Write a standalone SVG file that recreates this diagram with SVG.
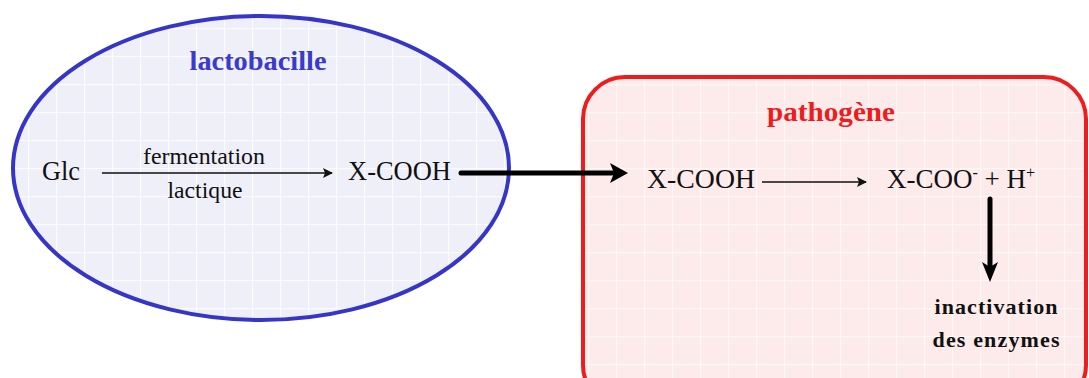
<svg xmlns="http://www.w3.org/2000/svg" width="1089" height="378" viewBox="0 0 1089 378">
<style>
.t{font-family:"Liberation Serif","Times New Roman",serif;fill:#111}
.big{font-size:27px}
.small{font-size:23px}
.bold{font-weight:bold}
.thin{stroke:#111;stroke-width:1.5;fill:none}
.thick{stroke:#000;stroke-width:5;fill:none;stroke-linecap:round}
</style>
<defs>
<pattern id="gb" width="28" height="28" patternUnits="userSpaceOnUse">
<rect width="28" height="28" fill="#efeffa"/>
<path d="M0 0.5H28M0.5 0V28" stroke="#fafaff" stroke-width="1.5"/>
</pattern>
<pattern id="gr" width="28" height="28" patternUnits="userSpaceOnUse">
<rect width="28" height="28" fill="#fdeaeb"/>
<path d="M0 0.5H28M0.5 0V28" stroke="#fff6f6" stroke-width="1.5"/>
</pattern>
<marker id="ah" markerWidth="10" markerHeight="10" refX="9" refY="5" orient="auto" markerUnits="userSpaceOnUse">
<path d="M0 0L10 5L0 10L2 5Z" fill="#111"/>
</marker>
</defs>
<g id="lactobacille">
<ellipse cx="261" cy="168" rx="248" ry="152" fill="url(#gb)" stroke="#3535c8" stroke-width="4"/>
<text class="t bold" x="258" y="70" text-anchor="middle" font-size="28" style="fill:#3a3acc" textLength="137" lengthAdjust="spacingAndGlyphs">lactobacille</text>
<text class="t big" x="42" y="180" textLength="38" lengthAdjust="spacingAndGlyphs">Glc</text>
<text class="t small" x="204" y="164" text-anchor="middle" textLength="122" lengthAdjust="spacingAndGlyphs">fermentation</text>
<text class="t small" x="205" y="198" text-anchor="middle" textLength="75" lengthAdjust="spacingAndGlyphs">lactique</text>
<text class="t big" x="348" y="180" textLength="103" lengthAdjust="spacingAndGlyphs">X-COOH</text>
</g>
<g id="pathogene">
<rect x="583" y="77" width="503" height="330" rx="42" fill="url(#gr)" stroke="#ee1c1c" stroke-width="4"/>
<text class="t bold" x="831" y="121" text-anchor="middle" font-size="28" style="fill:#ee1c1c" textLength="128" lengthAdjust="spacingAndGlyphs">pathogène</text>
<text class="t big" x="647" y="188" textLength="108" lengthAdjust="spacingAndGlyphs">X-COOH</text>
<text class="t big" x="887" y="188">X-COO<tspan font-size="16" dy="-10">-</tspan><tspan dy="10"> + H</tspan><tspan font-size="16" dy="-10">+</tspan></text>
<text class="t bold" x="996" y="314" text-anchor="middle" font-size="22" textLength="123" lengthAdjust="spacing">inactivation</text>
<text class="t bold" x="996" y="347" text-anchor="middle" font-size="22" textLength="127" lengthAdjust="spacing">des enzymes</text>
</g>
<g id="connectors">
<line class="thin" x1="102" y1="173" x2="332" y2="173" marker-end="url(#ah)"/>
<line class="thin" x1="762" y1="182" x2="866" y2="182" marker-end="url(#ah)"/>
<line class="thick" x1="461" y1="173" x2="612" y2="173"/>
<path d="M628 173L610 163L614 173L610 183Z" fill="#000"/>
<line class="thick" x1="990" y1="199" x2="990" y2="268"/>
<path d="M990 282L982 262L990 267L998 262Z" fill="#000"/>
</g>
</svg>
